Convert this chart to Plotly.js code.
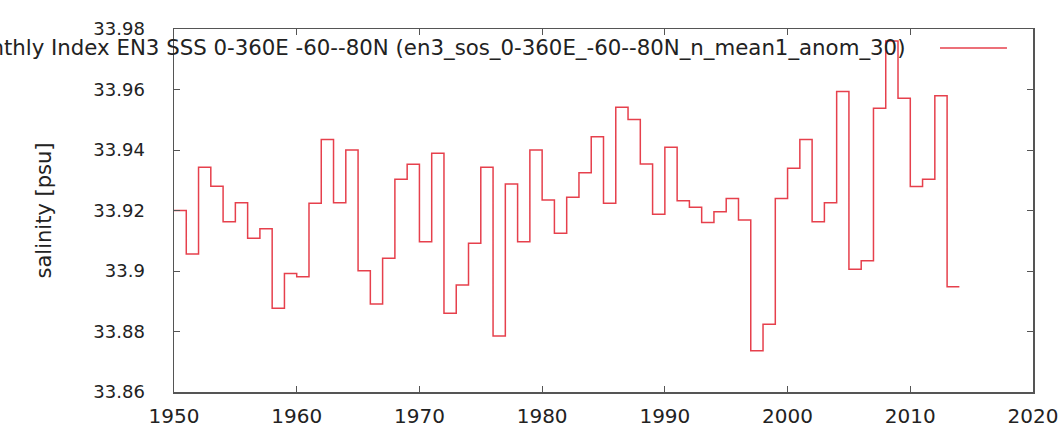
<!DOCTYPE html>
<html>
<head>
<meta charset="utf-8">
<script src="https://cdn.plot.ly/plotly-3.0.1.min.js"></script>
<style>html,body{margin:0;padding:0;background:#fff;}#chart{width:1063px;height:429px;}</style>
</head>
<body>
<div id="chart"></div>
<script>
var years = [1950,1951,1952,1953,1954,1955,1956,1957,1958,1959,
             1960,1961,1962,1963,1964,1965,1966,1967,1968,1969,
             1970,1971,1972,1973,1974,1975,1976,1977,1978,1979,
             1980,1981,1982,1983,1984,1985,1986,1987,1988,1989,
             1990,1991,1992,1993,1994,1995,1996,1997,1998,1999,
             2000,2001,2002,2003,2004,2005,2006,2007,2008,2009,
             2010,2011,2012,2013];
var salinity = [33.920,33.9056,33.9343,33.928,33.9163,33.9226,33.9108,33.914,33.8877,33.8992,
                33.8981,33.9224,33.9435,33.9226,33.940,33.9001,33.8891,33.9042,33.9303,33.9353,
                33.9097,33.9389,33.886,33.8954,33.9092,33.9343,33.8785,33.9288,33.9097,33.940,
                33.9235,33.9125,33.9244,33.9325,33.9444,33.9224,33.9541,33.9501,33.9354,33.9188,
                33.9409,33.9232,33.9211,33.916,33.9196,33.924,33.9169,33.8736,33.8824,33.924,
                33.934,33.9435,33.9163,33.9226,33.9593,33.9006,33.9034,33.9538,33.976,33.9571,
                33.9279,33.9303,33.9579,33.8948];
var yTickVals = [33.86,33.88,33.90,33.92,33.94,33.96,33.98];
var yTickText = ["33.86","33.88","33.9","33.92","33.94","33.96","33.98"];
var xTickVals = [1950,1960,1970,1980,1990,2000,2010,2020];
var seriesName = "Monthly Index EN3 SSS 0-360E -60--80N (en3_sos_0-360E_-60--80N_n_mean1_anom_30)";
var yTitle = "salinity [psu]";

var lineColor = "#e6404c";
var xs = years.concat([years[years.length-1] + 1]);
var ys = salinity.concat([salinity[salinity.length-1]]);

var trace = {
  x: xs, y: ys, type: "scatter", mode: "lines",
  line: {shape: "hv", color: lineColor, width: 1.5},
  showlegend: false, hoverinfo: "skip"
};

var fam = "DejaVu Sans, sans-serif";
var txt = "#222";
var layout = {
  width: 1063, height: 429,
  margin: {l: 174, r: 30, t: 29, b: 37, pad: 0},
  paper_bgcolor: "#fff", plot_bgcolor: "#fff",
  font: {family: fam, size: 18, color: txt},
  showlegend: false,
  xaxis: {
    range: [1950, 2020], tickvals: xTickVals, ticktext: xTickVals.map(String),
    ticks: "inside", ticklen: 6, tickcolor: "#555", tickwidth: 1,
    showline: true, linecolor: "#555", linewidth: 1.5, mirror: "ticks",
    showgrid: false, zeroline: false, ticklabelstandoff: 5,
    tickfont: {family: fam, size: 20, color: txt}
  },
  yaxis: {
    range: [33.86, 33.98], tickvals: yTickVals, ticktext: yTickText,
    ticks: "inside", ticklen: 6, tickcolor: "#555", tickwidth: 1,
    showline: true, linecolor: "#555", linewidth: 1.5, mirror: "ticks",
    showgrid: false, zeroline: false, ticklabelstandoff: 24,
    tickfont: {family: fam, size: 18, color: txt},
    title: {text: yTitle, font: {family: fam, size: 21, color: txt}, standoff: 36}
  },
  annotations: [{
    xref: "paper", yref: "paper", x: 0.8533, y: 0.9477,
    xanchor: "right", yanchor: "middle", showarrow: false,
    text: seriesName, font: {family: fam, size: 21.3, color: txt}
  }],
  shapes: [{
    type: "line", xref: "paper", yref: "paper",
    x0: 0.8917, x1: 0.9697, y0: 0.9477, y1: 0.9477,
    line: {color: lineColor, width: 1.5}
  }]
};

Plotly.newPlot("chart", [trace], layout, {displayModeBar: false, staticPlot: true});
</script>
</body>
</html>
